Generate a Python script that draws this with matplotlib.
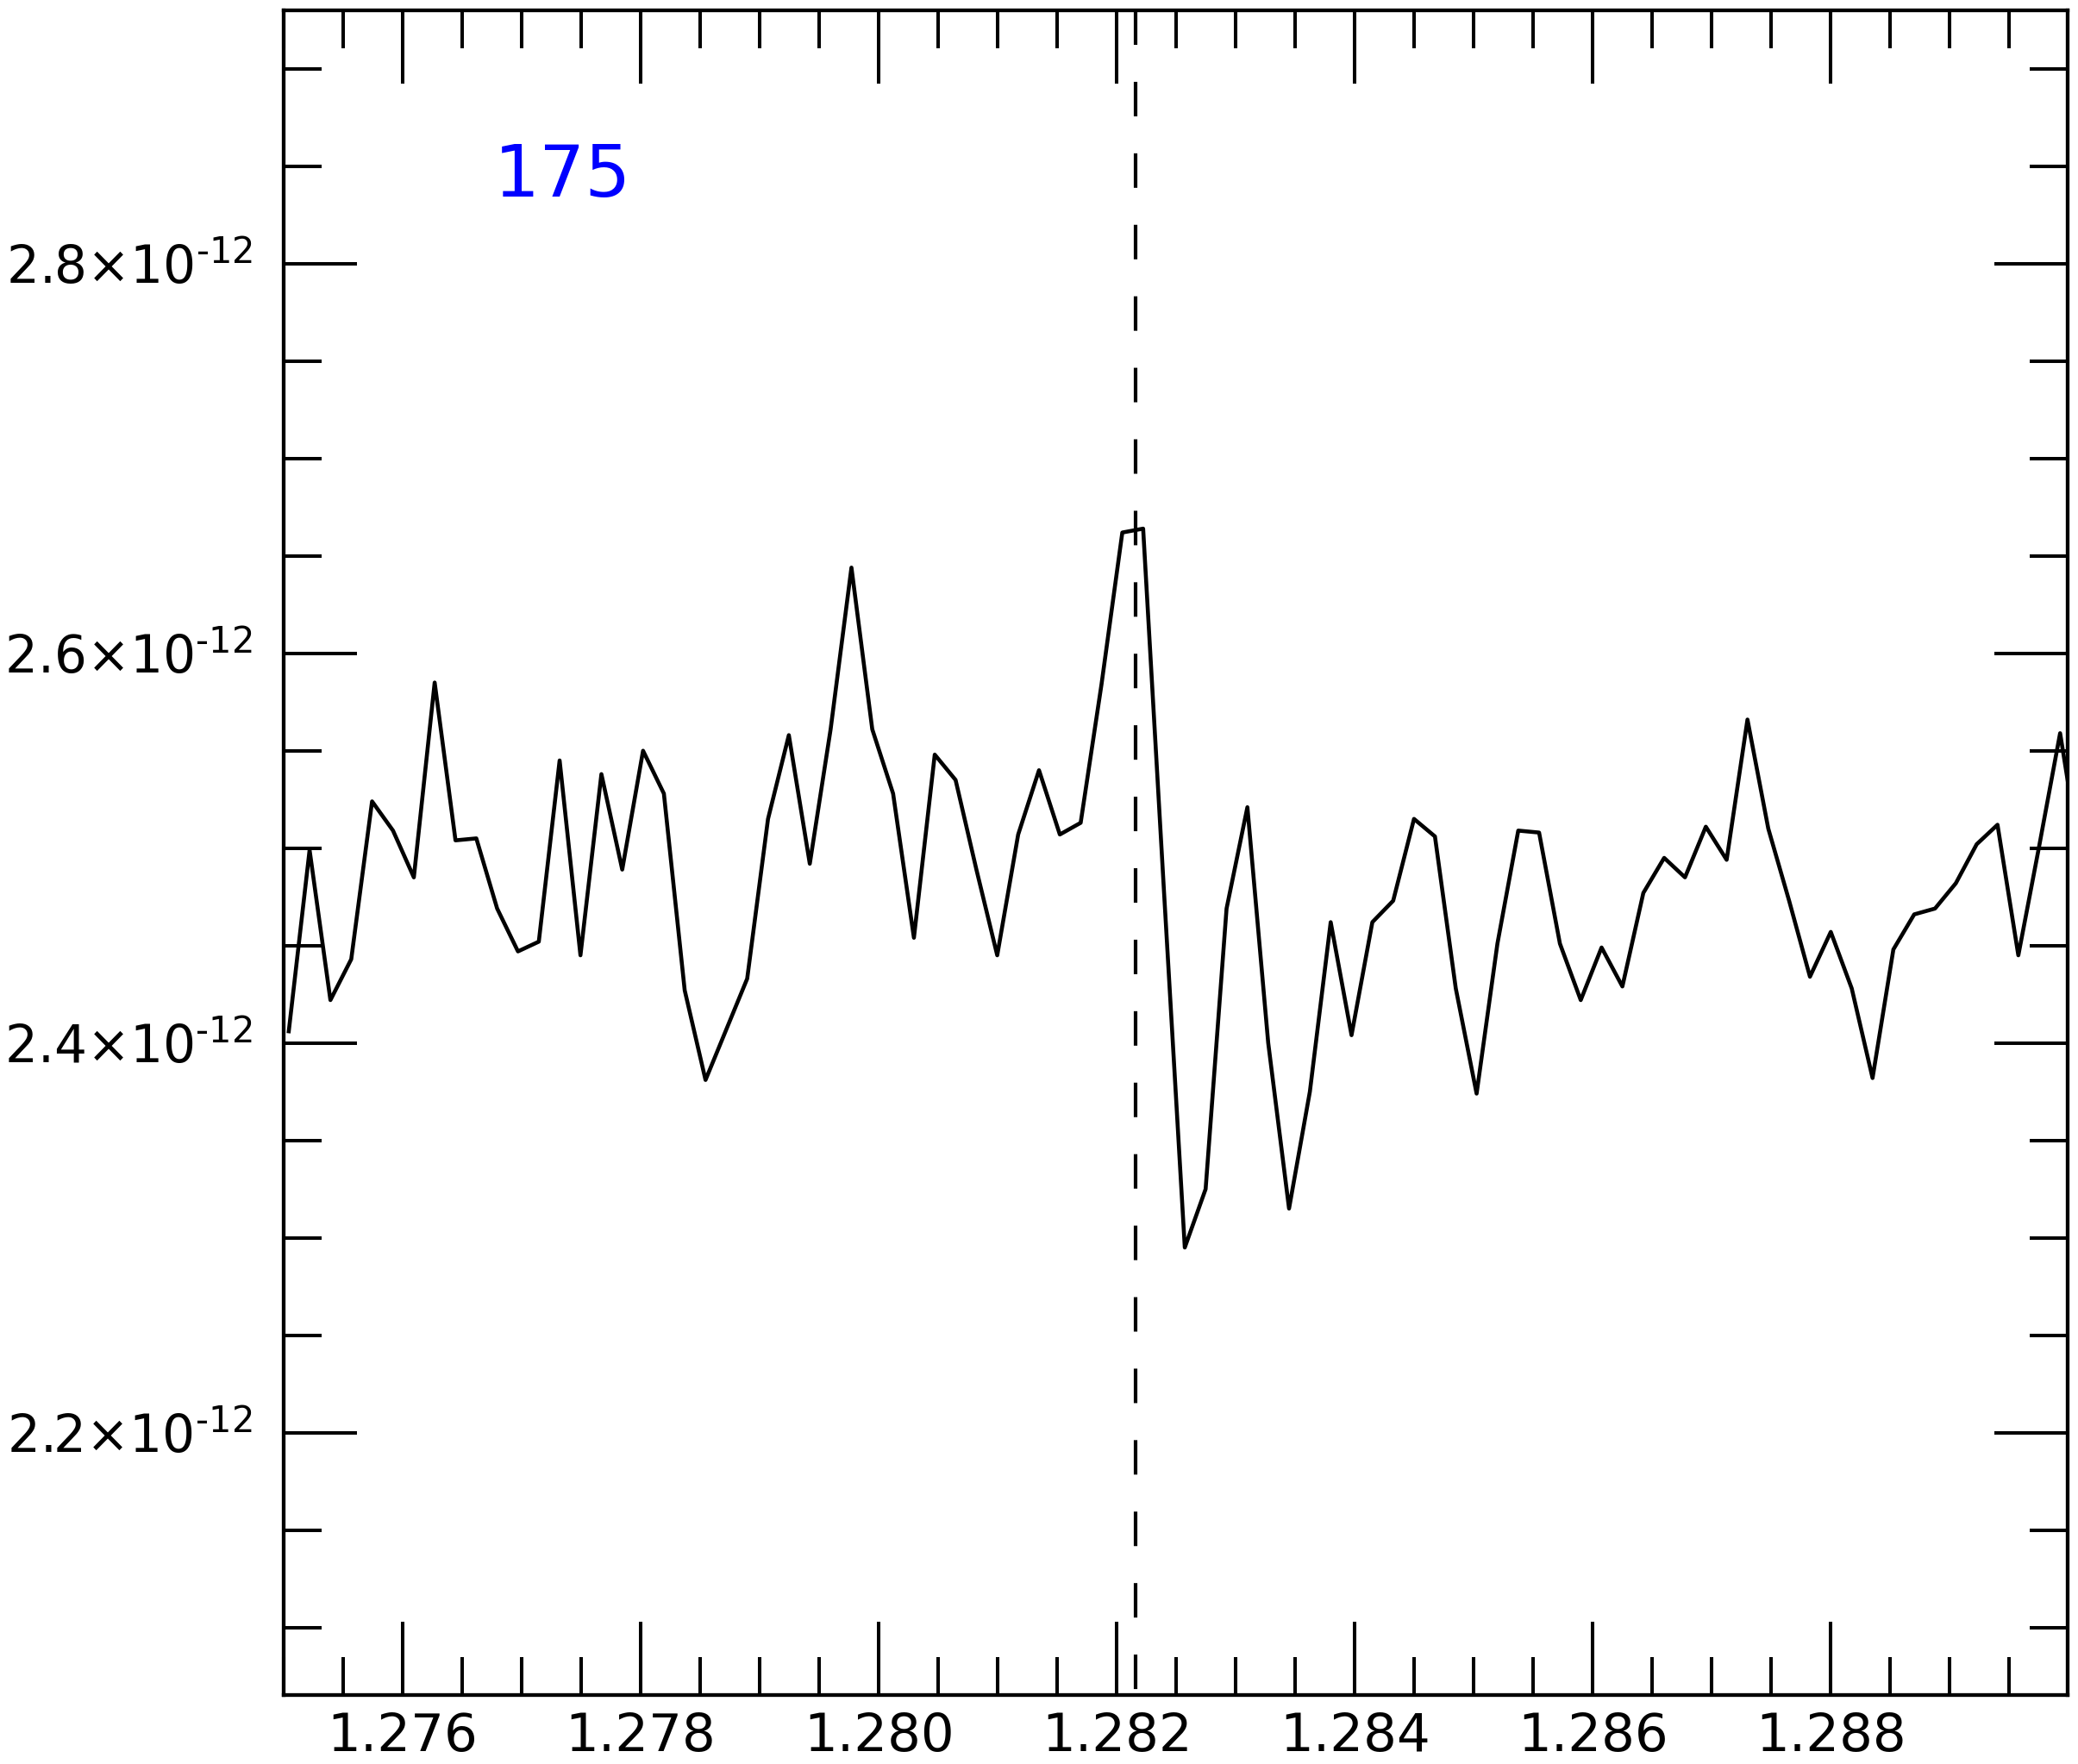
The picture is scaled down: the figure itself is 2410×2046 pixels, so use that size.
import numpy as np
import matplotlib
matplotlib.use("Agg")
import matplotlib.pyplot as plt
from matplotlib.ticker import MultipleLocator, FixedLocator, FuncFormatter
import matplotlib.transforms as mtransforms

# wavelength grid (micron)
wave = [1.275043, 1.275218, 1.275393, 1.275568, 1.275743, 1.275919, 1.276094, 1.276269,
        1.276444, 1.276619, 1.276794, 1.276969, 1.277144, 1.277319, 1.277494, 1.277670,
        1.277845, 1.278020, 1.278195, 1.278370, 1.278545, 1.278720, 1.278895, 1.279070,
        1.279245, 1.279421, 1.279596, 1.279771, 1.279946, 1.280121, 1.280296, 1.280471,
        1.280646, 1.280821, 1.280996, 1.281172, 1.281347, 1.281522, 1.281697, 1.281872,
        1.282047, 1.282222, 1.282397, 1.282572, 1.282747, 1.282923, 1.283098, 1.283273,
        1.283448, 1.283623, 1.283798, 1.283973, 1.284148, 1.284323, 1.284498, 1.284674,
        1.284849, 1.285024, 1.285199, 1.285374, 1.285549, 1.285724, 1.285899, 1.286074,
        1.286249, 1.286425, 1.286600, 1.286775, 1.286950, 1.287125, 1.287300, 1.287475,
        1.287650, 1.287825, 1.288000, 1.288176, 1.288351, 1.288526, 1.288701, 1.288876,
        1.289051, 1.289226, 1.289401, 1.289576, 1.289751, 1.289927, 1.290102]

# flux in units of 1e-12
flux = [2.406, 2.499, 2.422, 2.443, 2.524, 2.509, 2.485, 2.585, 2.504, 2.505,
        2.469, 2.447, 2.452, 2.545, 2.445, 2.538, 2.489, 2.550, 2.528, 2.427,
        2.381, 2.407, 2.433, 2.515, 2.558, 2.492, 2.561, 2.644, 2.561, 2.528,
        2.454, 2.548, 2.535, 2.489, 2.445, 2.507, 2.540, 2.507, 2.513, 2.584,
        2.662, 2.664, 2.478, 2.295, 2.325, 2.469, 2.521, 2.400, 2.315, 2.375,
        2.462, 2.404, 2.462, 2.473, 2.515, 2.506, 2.428, 2.374, 2.451, 2.509,
        2.508, 2.451, 2.422, 2.449, 2.429, 2.477, 2.495, 2.485, 2.511, 2.494,
        2.566, 2.510, 2.473, 2.434, 2.457, 2.428, 2.382, 2.448, 2.466, 2.469,
        2.482, 2.502, 2.512, 2.445, 2.501, 2.559, 2.492]

line_wave = 1.28216
label = "175"

x_major = [1.276, 1.278, 1.280, 1.282, 1.284, 1.286, 1.288]
y_major = [2.2e-12, 2.4e-12, 2.6e-12, 2.8e-12]

plt.rcParams['font.family'] = 'DejaVu Sans'
plt.rcParams['mathtext.fontset'] = 'dejavusans'

fig = plt.figure(figsize=(24.1, 20.46), dpi=100)
ax = fig.add_axes([0.1365, 0.0391, 0.8585, 0.955])

flux_arr = np.array(flux) * 1e-12
ax.plot(wave, flux_arr, color='black', lw=3.3)
# dashed marker drawn from top to bottom so the dash pattern starts at the top
trans = mtransforms.blended_transform_factory(ax.transData, ax.transAxes)
ax.plot([line_wave, line_wave], [1, 0], transform=trans, color='black',
        lw=3.0, ls=(0, (9.6, 10.3)))

ax.set_xlim(1.275, 1.28999)
ax.set_ylim(2.0653e-12, 2.930e-12)

ax.xaxis.set_major_locator(FixedLocator(x_major))
ax.xaxis.set_minor_locator(MultipleLocator(0.0005))
ax.xaxis.set_major_formatter(FuncFormatter(lambda v, p: f"{v:.3f}"))
ax.yaxis.set_major_locator(FixedLocator(y_major))
ax.yaxis.set_minor_locator(MultipleLocator(0.05e-12))
ax.yaxis.set_major_formatter(
    FuncFormatter(lambda v, p: f"{v*1e12:.1f}×10" + r"$^{\text{-12}}$"))

for s in ax.spines.values():
    s.set_linewidth(3.1)
ax.tick_params(which='both', direction='in', top=True, right=True, width=2.9)
ax.tick_params(which='major', length=61)
ax.tick_params(which='minor', length=32)
ax.tick_params(axis='y', which='major', pad=26, labelsize=43)
ax.tick_params(axis='x', which='major', pad=14, labelsize=44)

ax.text(0.118, 0.8897, label, color='blue', fontsize=60,
        transform=ax.transAxes, ha='left', va='baseline')

fig.savefig("out.png", dpi=100)
